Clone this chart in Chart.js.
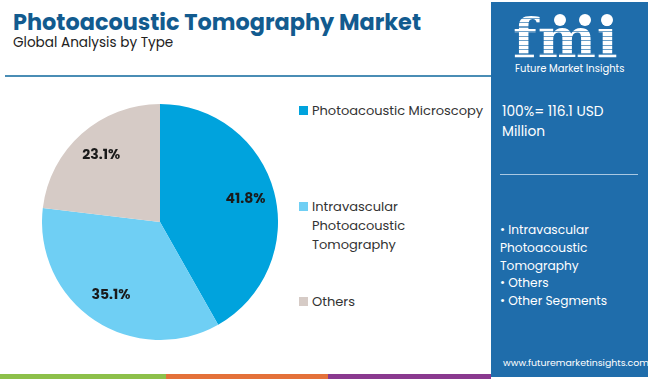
<!DOCTYPE html>
<html><head><meta charset="utf-8">
<script src="https://cdn.jsdelivr.net/npm/chart.js@4.4.1/dist/chart.umd.min.js"></script>
<style>
html,body{margin:0;padding:0;background:#fff;}
body{width:650px;height:379px;position:relative;overflow:hidden;font-family:"Poppins","Inter","Open Sans",sans-serif;}
.abs{position:absolute;white-space:nowrap;}
#title{left:13px;top:5px;font-size:22.4px;font-weight:700;color:#125b8f;}
#sub{left:13px;top:33px;font-size:13.6px;color:#222;}
#rule{left:5px;top:75px;width:486px;height:2px;background:#4a8db5;}
#pieBox{left:42px;top:104px;width:236px;height:236px;}
.leg{position:absolute;left:299px;font-size:13px;color:#333;line-height:19px;}
.leg .sw{position:absolute;left:0;top:5px;width:9px;height:9px;}
.leg .tx{position:absolute;left:13px;top:0;white-space:nowrap;}
#panel{left:491px;top:2px;width:157px;height:375px;background:#1f6dab;}
.pt{position:absolute;color:#fff;white-space:nowrap;}
.strip{position:absolute;top:374px;height:5px;}
#logo{left:22px;top:8px;font-size:55px;font-weight:700;font-family:'DejaVu Serif',serif;letter-spacing:1px;line-height:56px;
  background:repeating-linear-gradient(#fff 0 3px, rgba(255,255,255,0.35) 3px 4.5px);-webkit-background-clip:text;background-clip:text;color:transparent;}
.dot{position:absolute;width:12px;height:12px;border-radius:50%;background:#fff;}
</style></head>
<body>
<div id="title" class="abs">Photoacoustic Tomography Market</div>
<div id="sub" class="abs">Global Analysis by Type</div>
<div id="rule" class="abs"></div>
<div id="pieBox" class="abs"><canvas id="c" width="236" height="236"></canvas></div>
<div id="legend"></div>
<div id="panel" class="abs">
  <div class="pt" id="logo">fmi</div>
  <div class="dot" style="left:63px;top:12px;"></div>
  <div class="dot" style="left:88px;top:12px;"></div>
  <div class="dot" style="left:110px;top:12px;"></div>
  <div class="pt" style="left:24px;top:60px;font-size:10px;line-height:14px;">Future Market Insights</div>
  <div class="pt" id="total" style="left:11px;top:100px;font-size:13.8px;line-height:20px;"></div>
  <div class="pt" style="left:9px;top:172px;width:138px;height:1px;background:#a9c8e2;"></div>
  <div class="pt" id="segs" style="left:9px;top:219px;font-size:12.2px;line-height:17.8px;white-space:normal;width:145px;"></div>
  <div class="pt" style="left:12px;top:354px;font-size:9.4px;line-height:14px;">www.futuremarketinsights.com</div>
</div>
<div class="strip" style="left:0;width:166px;background:#8dc04a;"></div>
<div class="strip" style="left:166px;width:162px;background:#e4713a;"></div>
<div class="strip" style="left:328px;width:163px;background:#8a3a8f;"></div>
<script>
const categories = ["Photoacoustic Microscopy", "Intravascular Photoacoustic Tomography", "Others"];
const legendLines = [["Photoacoustic Microscopy"], ["Intravascular", "Photoacoustic", "Tomography"], ["Others"]];
const shares = [41.8, 35.1, 23.1];
const colors = ["#00a3dd", "#6fcff4", "#d6cbc6"];
const totalText = ["100%= 116.1 USD", "Million"];
const segmentLines = ["• Intravascular", "Photoacoustic", "Tomography", "• Others", "• Other Segments"];

document.getElementById('total').innerHTML = totalText.join('<br>');
document.getElementById('segs').innerHTML = segmentLines.join('<br>');

const legTops = [101, 197, 292];
const lg = document.getElementById('legend');
legendLines.forEach((lines, i) => {
  const d = document.createElement('div');
  d.className = 'leg';
  d.style.top = legTops[i] + 'px';
  d.innerHTML = '<div class="sw" style="background:' + colors[i] + '"></div><div class="tx">' + lines.join('<br>') + '</div>';
  lg.appendChild(d);
});

const labelPlugin = {
  id: 'pctLabels',
  afterDatasetsDraw(chart) {
    const ctx = chart.ctx;
    const meta = chart.getDatasetMeta(0);
    ctx.save();
    ctx.font = '700 14px "Poppins","Inter","Open Sans",sans-serif';
    ctx.fillStyle = '#1a1a1a';
    ctx.textAlign = 'center';
    ctx.textBaseline = 'middle';
    meta.data.forEach((arc, i) => {
      const p = arc.getProps(['x','y','startAngle','endAngle','outerRadius'], true);
      const a = (p.startAngle + p.endAngle) / 2;
      const r = p.outerRadius * 0.75;
      ctx.fillText(shares[i].toFixed(1) + '%', p.x + Math.cos(a) * r, p.y + Math.sin(a) * r);
    });
    ctx.restore();
  }
};

new Chart(document.getElementById('c'), {
  type: 'pie',
  data: { labels: categories, datasets: [{ data: shares, backgroundColor: colors, borderWidth: 0 }] },
  options: {
    responsive: false, animation: false,
    layout: { padding: 0 },
    plugins: { legend: { display: false }, tooltip: { enabled: false } }
  },
  plugins: [labelPlugin]
});
</script>
</body></html>
